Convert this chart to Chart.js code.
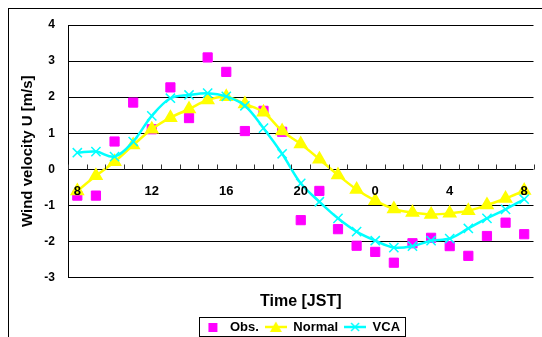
<!DOCTYPE html>
<html>
<head>
<meta charset="utf-8">
<script src="https://cdn.jsdelivr.net/npm/chart.js@4"></script>
<style>
  html, body { margin: 0; padding: 0; background: #fff; }
  canvas { display: block; }
</style>
</head>
<body>
<canvas id="windChart" width="542" height="337"></canvas>
<script>
// hours JST, 8 -> 8 next day
const hours = ['8','9','10','11','12','13','14','15','16','17','18','19','20',
               '21','22','23','0','1','2','3','4','5','6','7','8'];
const labelEvery = 4;

const obsValues = [-0.73, -0.73, 0.77, 1.85, 1.11, 2.27, 1.42, 3.10, 2.70, 1.06, 1.62, 1.04, -1.41,
                   -0.60, -1.66, -2.12, -2.29, -2.59, -2.05, -1.90, -2.13, -2.40, -1.85, -1.48, -1.80];
const normalValues = [-0.60, -0.18, 0.21, 0.67, 1.11, 1.43, 1.67, 1.92, 2.01, 1.81, 1.58, 1.06, 0.70,
                      0.28, -0.16, -0.56, -0.87, -1.10, -1.20, -1.25, -1.22, -1.15, -0.99, -0.81, -0.59];
const vcaValues = [0.46, 0.49, 0.35, 0.77, 1.48, 1.97, 2.06, 2.11, 2.02, 1.76, 1.14, 0.43, -0.39,
                   -0.90, -1.36, -1.73, -1.98, -2.17, -2.13, -1.98, -1.92, -1.64, -1.36, -1.11, -0.83];

const MAGENTA = '#FF00FF';
const YELLOW = '#FFFF00';
const CYAN = '#00FFFF';
const boldFont = (size) => ({ family: '"Liberation Sans", Arial, sans-serif', size: size, weight: 'bold' });

// little pictures for the legend (line + marker like Excel)
function legendSample(kind, color) {
  const c = document.createElement('canvas');
  c.width = 22; c.height = 12;
  const g = c.getContext('2d');
  g.strokeStyle = color; g.fillStyle = color;
  if (kind === 'square') {
    g.fillRect(7, 2, 9, 9);
    return c;
  }
  g.lineWidth = 2.5;
  g.beginPath(); g.moveTo(0, 6); g.lineTo(22, 6); g.stroke();
  if (kind === 'triangle') {
    g.beginPath(); g.moveTo(11, 0.5); g.lineTo(17, 11); g.lineTo(5, 11); g.closePath(); g.fill();
  } else {
    g.lineWidth = 1.5;
    g.beginPath();
    g.moveTo(7, 2); g.lineTo(15, 10);
    g.moveTo(15, 2); g.lineTo(7, 10);
    g.stroke();
  }
  return c;
}
const samples = [legendSample('square', MAGENTA), legendSample('triangle', YELLOW), legendSample('cross', CYAN)];

const framePlugin = {
  id: 'frame',
  beforeDraw(chart) {
    const ctx = chart.ctx;
    ctx.save();
    ctx.strokeStyle = '#000';
    ctx.lineWidth = 1;
    ctx.strokeRect(8.5, 8.5, 600, 400);
    ctx.restore();
  }
};

// x tick marks pointing up from the zero line, at category boundaries
const upTicksPlugin = {
  id: 'upTicks',
  afterDatasetsDraw(chart) {
    const xs = chart.scales.x, ys = chart.scales.y;
    const y0 = Math.round(ys.getPixelForValue(0)) + 0.5;
    const n = hours.length;
    const ctx = chart.ctx;
    ctx.save();
    ctx.strokeStyle = '#333';
    ctx.lineWidth = 1;
    ctx.beginPath();
    for (let i = 0; i <= n; i++) {
      const x = Math.round(xs.left + i * xs.width / n) + 0.5;
      ctx.moveTo(x, y0);
      ctx.lineTo(x, y0 - 5);
    }
    ctx.stroke();
    ctx.restore();
  }
};

const legendBoxPlugin = {
  id: 'legendBox',
  afterDraw(chart) {
    const boxes = chart.legend.legendHitBoxes;
    if (!boxes || !boxes.length) return;
    const left = Math.min(...boxes.map(b => b.left)) - 2;
    const right = Math.max(...boxes.map(b => b.left + b.width)) + 5;
    const top = boxes[0].top - 3.5;
    const ctx = chart.ctx;
    ctx.save();
    ctx.strokeStyle = '#000';
    ctx.lineWidth = 1;
    ctx.strokeRect(Math.round(left) + 0.5, Math.round(top) + 0.5, Math.round(right - left), 336 - Math.round(top));
    ctx.restore();
  }
};

new Chart(document.getElementById('windChart'), {
  type: 'line',
  data: {
    labels: hours,
    datasets: [
      {
        label: 'Obs.',
        data: obsValues,
        showLine: false,
        pointStyle: 'rect',
        pointRadius: 6.5,
        pointBackgroundColor: MAGENTA,
        pointBorderColor: MAGENTA,
        order: 2
      },
      {
        label: 'Normal',
        data: normalValues,
        borderColor: YELLOW,
        borderWidth: 2.5,
        tension: 0.35,
        pointStyle: 'triangle',
        pointRadius: 6,
        pointBackgroundColor: YELLOW,
        pointBorderColor: YELLOW,
        order: 1
      },
      {
        label: 'VCA',
        data: vcaValues,
        borderColor: CYAN,
        borderWidth: 2.5,
        tension: 0.35,
        pointStyle: 'crossRot',
        pointRadius: 6.5,
        pointBorderWidth: 1.5,
        pointBorderColor: CYAN,
        order: 0
      }
    ]
  },
  options: {
    responsive: false,
    animation: false,
    events: [],
    layout: { padding: { left: 0, right: 3, top: 25, bottom: -6.5 } },
    scales: {
      x: {
        type: 'category',
        position: { y: 0 },
        offset: true,
        afterFit(scale) {
          scale.height = 0;
          scale.paddingLeft = 0;
          scale.paddingRight = 0;
        },
        grid: { display: false },
        border: { display: false },
        ticks: {
          z: 1, // hour labels sit on top of the markers
          autoSkip: false,
          maxRotation: 0,
          padding: 6,
          color: '#000',
          font: boldFont(13),
          callback: (val, i) => (i % labelEvery === 0 ? hours[i] : '')
        }
      },
      y: {
        min: -3,
        max: 4,
        afterFit(scale) { scale.width = 68; },
        grid: { color: '#000', lineWidth: 1, drawTicks: false },
        border: { display: true, color: '#000', width: 1 },
        ticks: { stepSize: 1, padding: 13, color: '#000', font: boldFont(12) },
        title: {
          display: true,
          text: 'Wind velocity U [m/s]',
          color: '#000',
          font: boldFont(15),
          padding: { top: 19, bottom: 0 }
        }
      }
    },
    plugins: {
      tooltip: { enabled: false },
      title: {
        display: true,
        position: 'bottom',
        fullSize: false,
        text: 'Time [JST]',
        color: '#000',
        font: boldFont(16),
        padding: { top: 14.5, bottom: 3.3 }
      },
      legend: {
        position: 'bottom',
        fullSize: false,
        weight: 3000,
        labels: {
          usePointStyle: true,
          pointStyleWidth: 22,
          padding: 6,
          color: '#000',
          font: boldFont(13),
          sort: (a, b) => a.datasetIndex - b.datasetIndex,
          generateLabels(chart) {
            const items = Chart.defaults.plugins.legend.labels.generateLabels(chart);
            items.forEach(it => { it.pointStyle = samples[it.datasetIndex]; });
            return items;
          }
        }
      }
    }
  },
  plugins: [framePlugin, upTicksPlugin, legendBoxPlugin]
});
</script>
</body>
</html>
